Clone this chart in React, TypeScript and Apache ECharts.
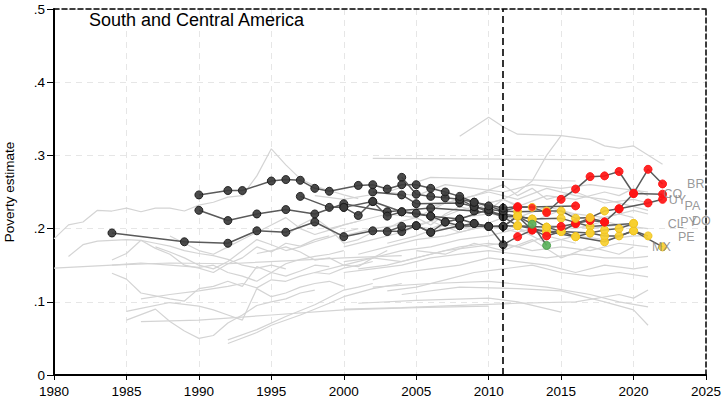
import React, { useEffect, useRef } from 'react';
import * as echarts from 'echarts';

const FONT = "'Liberation Sans', Arial, Helvetica, sans-serif";

// status codes: 0 = before 2012 (black), 1 = red, 2 = yellow, 3 = green, 4 = red/yellow
const xTicks = { min: 1980, max: 2025, step: 5 };
const yTicks = { min: 0, max: 0.5, step: 0.1 };

const brazil = {
  years: [1990, 1992, 1993, 1995, 1996, 1997, 1998, 1999, 2001, 2002, 2003, 2004, 2005, 2006, 2007, 2008, 2009, 2011, 2012, 2013, 2014, 2015, 2016, 2017, 2018, 2019, 2020, 2021, 2022],
  values: [0.246, 0.252, 0.252, 0.265, 0.267, 0.266, 0.255, 0.251, 0.259, 0.26, 0.254, 0.26, 0.26, 0.255, 0.25, 0.244, 0.236, 0.228, 0.23, 0.229, 0.222, 0.24, 0.254, 0.271, 0.272, 0.278, 0.248, 0.281, 0.261],
  status: [0, 0, 0, 0, 0, 0, 0, 0, 0, 0, 0, 0, 0, 0, 0, 0, 0, 0, 1, 4, 1, 1, 1, 1, 1, 1, 1, 1, 1],
};
const chile = {
  years: [1990, 1992, 1994, 1996, 1998, 2000, 2003, 2006, 2009, 2011, 2013, 2015, 2017, 2020],
  values: [0.225, 0.211, 0.22, 0.226, 0.22, 0.234, 0.223, 0.228, 0.224, 0.22, 0.213, 0.214, 0.203, 0.207],
  status: [0, 0, 0, 0, 0, 0, 0, 0, 0, 0, 2, 2, 2, 2],
};
const mexico = {
  years: [1984, 1989, 1992, 1994, 1996, 1998, 2000, 2002, 2004, 2005, 2006, 2008, 2010, 2012, 2014, 2016, 2018, 2020, 2022],
  values: [0.194, 0.182, 0.18, 0.197, 0.195, 0.209, 0.189, 0.197, 0.196, 0.204, 0.195, 0.204, 0.203, 0.204, 0.196, 0.189, 0.182, 0.197, 0.175],
  status: [0, 0, 0, 0, 0, 0, 0, 0, 0, 0, 0, 0, 0, 2, 2, 2, 2, 2, 2],
};
const peru = {
  years: [1997, 1999, 2000, 2001, 2002, 2003, 2004, 2005, 2006, 2007, 2008, 2009, 2010, 2011, 2012, 2013, 2014, 2015, 2016, 2017, 2018, 2019, 2020, 2021],
  values: [0.244, 0.229, 0.229, 0.218, 0.237, 0.217, 0.223, 0.221, 0.217, 0.209, 0.213, 0.207, 0.203, 0.203, 0.217, 0.198, 0.196, 0.196, 0.189, 0.194, 0.19, 0.19, 0.197, 0.19],
  status: [0, 0, 0, 0, 0, 0, 0, 0, 0, 0, 0, 0, 0, 0, 2, 1, 2, 2, 2, 2, 2, 2, 2, 2],
};
const uruguay = {
  years: [2004, 2005, 2006, 2007, 2008, 2009, 2010, 2011, 2012, 2014, 2015, 2016, 2017, 2018, 2019, 2021, 2022],
  values: [0.27, 0.247, 0.244, 0.242, 0.24, 0.23, 0.226, 0.224, 0.223, 0.224, 0.224, 0.214, 0.215, 0.224, 0.227, 0.235, 0.24],
  status: [0, 0, 0, 0, 0, 0, 0, 0, 2, 2, 2, 2, 2, 2, 1, 1, 1],
};
const colombia = {
  years: [2002, 2004, 2005, 2008, 2009, 2010, 2011, 2012, 2013, 2014, 2015, 2016, 2017, 2018, 2019, 2020, 2022],
  values: [0.25, 0.246, 0.234, 0.235, 0.23, 0.223, 0.216, 0.217, 0.213, 0.202, 0.203, 0.207, 0.211, 0.209, 0.227, 0.248, 0.247],
  status: [0, 0, 0, 0, 0, 0, 0, 2, 2, 2, 1, 1, 1, 1, 1, 1, 1],
};
const paraguay = {
  years: [2003, 2004, 2005, 2006, 2007, 2008, 2009, 2010, 2011, 2012, 2013, 2014, 2015, 2016, 2017, 2018],
  values: [0.196, 0.203, 0.204, 0.195, 0.209, 0.204, 0.207, 0.203, 0.178, 0.189, 0.198, 0.19, 0.196, 0.207, 0.214, 0.209],
  status: [0, 0, 0, 0, 0, 0, 0, 0, 0, 1, 1, 1, 2, 1, 1, 1],
};
const panama = {
  years: [2008, 2009, 2010, 2011, 2012, 2016],
  values: [0.24, 0.236, 0.231, 0.224, 0.229, 0.231],
  status: [0, 0, 0, 0, 1, 1],
};
const dominicanRep = {
  years: [2000, 2002, 2004, 2006, 2008, 2010, 2011, 2012, 2014, 2015, 2017, 2018, 2019, 2020],
  values: [0.229, 0.237, 0.223, 0.217, 0.213, 0.226, 0.216, 0.204, 0.202, 0.196, 0.194, 0.198, 0.2, 0.207],
  status: [0, 0, 0, 0, 0, 0, 0, 2, 2, 2, 2, 2, 2, 2],
};
const otherHighlighted = {
  years: [2011, 2012, 2013, 2014],
  values: [0.203, 0.217, 0.206, 0.177],
  status: [0, 2, 3, 3],
};

const labelNames = ['BR', 'CO', 'UY', 'PA', 'DO', 'CL', 'PY', 'PE', 'MX'];
const labelYears = [2023.69, 2022.07, 2022.42, 2023.52, 2024.03, 2022.35, 2023.22, 2023.06, 2021.27];
const labelValues = [0.261, 0.247, 0.239, 0.231, 0.211, 0.206, 0.209, 0.1885, 0.1744];

const cutoffYear = 2011;

// background (other countries): flat lists of year, value pairs
const backgroundLines: number[][] = [
  [1980, 0.146, 1984, 0.15, 1988, 0.153, 1992, 0.152, 1996, 0.156, 2000, 0.16, 2004, 0.163],
  [1980, 0.186, 1981, 0.205, 1982, 0.209, 1983, 0.225, 1984, 0.224, 1985, 0.228, 1986, 0.223, 1987, 0.228, 1988, 0.228, 1989, 0.224, 1990, 0.232, 1991, 0.236, 1992, 0.243, 1993, 0.245, 1994, 0.272, 1995, 0.309, 1996, 0.287, 1997, 0.268, 1998, 0.258, 1999, 0.252, 2000, 0.246, 2001, 0.241],
  [1981, 0.162, 1982, 0.178, 1983, 0.183, 1985, 0.185, 1986, 0.184, 1987, 0.18, 1988, 0.176, 1989, 0.17, 1990, 0.166, 1991, 0.163, 1992, 0.158, 1993, 0.15, 1994, 0.146, 1995, 0.15, 1996, 0.145],
  [1984, 0.157, 1985, 0.166, 1986, 0.184, 1987, 0.173, 1988, 0.165, 1989, 0.15, 1990, 0.146, 1991, 0.14, 1992, 0.152, 1993, 0.16, 1994, 0.175, 1995, 0.168, 1996, 0.18, 1997, 0.176, 1998, 0.185, 1999, 0.19],
  [1984, 0.15, 1986, 0.153, 1988, 0.15, 1990, 0.147, 1991, 0.15, 1992, 0.14, 1993, 0.135, 1994, 0.128, 1995, 0.14, 1996, 0.152, 1997, 0.158, 1998, 0.162, 1999, 0.165, 2000, 0.17],
  [1984, 0.139, 1985, 0.131, 1986, 0.112, 1987, 0.108, 1988, 0.104, 1989, 0.101, 1990, 0.118, 1991, 0.121, 1992, 0.128, 1993, 0.121, 1994, 0.148, 1995, 0.14, 1996, 0.135, 1997, 0.142, 1998, 0.15, 1999, 0.148],
  [1985, 0.087, 1986, 0.091, 1988, 0.099, 1990, 0.094, 1991, 0.089, 1992, 0.082, 1993, 0.075, 1994, 0.118, 1995, 0.107, 1996, 0.112, 1997, 0.12, 1998, 0.125, 1999, 0.128, 2000, 0.121],
  [1985, 0.075, 1987, 0.09, 1988, 0.073, 1989, 0.06, 1990, 0.05, 1991, 0.054, 1992, 0.071, 1993, 0.082, 1994, 0.095, 1995, 0.1, 1996, 0.104, 1997, 0.112, 1998, 0.116],
  [1986, 0.073, 1990, 0.075, 1995, 0.082, 2000, 0.089, 2005, 0.092, 2010, 0.094],
  [1986, 0.104, 1988, 0.11, 1990, 0.115, 1991, 0.118, 1992, 0.121, 1993, 0.125, 1994, 0.119, 1995, 0.13, 1996, 0.128, 1997, 0.135, 1998, 0.14, 1999, 0.138, 2000, 0.146, 2001, 0.15, 2002, 0.155],
  [1992, 0.043, 1994, 0.058, 1995, 0.068, 1997, 0.082, 1999, 0.098, 2000, 0.107, 2002, 0.118, 2004, 0.125],
  [1992, 0.048, 1994, 0.062, 1996, 0.08, 1998, 0.096, 2000, 0.116, 2001, 0.12, 2002, 0.125],
  [1987, 0.175, 1988, 0.168, 1989, 0.16, 1990, 0.15, 1991, 0.145, 1992, 0.155, 1993, 0.17, 1994, 0.185, 1995, 0.178, 1996, 0.17, 1997, 0.175, 1998, 0.182, 1999, 0.188, 2000, 0.195, 2001, 0.2],
  [1988, 0.19, 1989, 0.18, 1990, 0.17, 1991, 0.165, 1992, 0.175, 1993, 0.185, 1994, 0.195, 1995, 0.205, 1996, 0.215, 1997, 0.2, 1998, 0.192, 1999, 0.198, 2000, 0.205, 2001, 0.21],
  [1994, 0.166, 1995, 0.17, 1996, 0.175, 1997, 0.168, 1998, 0.157, 1999, 0.16, 2000, 0.15, 2001, 0.148, 2002, 0.16, 2003, 0.17],
  [1996, 0.19, 1997, 0.205, 1998, 0.215, 1999, 0.2, 2000, 0.18, 2001, 0.185, 2002, 0.195, 2003, 0.2, 2004, 0.21, 2005, 0.215, 2006, 0.205, 2007, 0.22, 2008, 0.23, 2009, 0.225, 2010, 0.235, 2011, 0.24, 2012, 0.232],
  [2002, 0.296, 2018, 0.294],
  [2008, 0.326, 2010, 0.352, 2011, 0.339, 2012, 0.329, 2015, 0.327, 2017, 0.322, 2018, 0.313, 2019, 0.31, 2020, 0.313, 2022, 0.288],
  [2010, 0.225, 2011, 0.24, 2012, 0.25, 2013, 0.265, 2014, 0.3, 2015, 0.327],
  [2000, 0.175, 2002, 0.185, 2004, 0.195, 2006, 0.21, 2008, 0.225, 2010, 0.235, 2011, 0.24, 2012, 0.23, 2014, 0.245, 2016, 0.24, 2018, 0.25, 2019, 0.245, 2020, 0.255, 2021, 0.245],
  [1999, 0.2, 2001, 0.21, 2003, 0.22, 2005, 0.215, 2007, 0.235, 2009, 0.245, 2011, 0.26, 2012, 0.245, 2013, 0.255, 2014, 0.24, 2016, 0.25, 2018, 0.235, 2020, 0.24, 2021, 0.235],
  [2000, 0.19, 2002, 0.2, 2004, 0.205, 2006, 0.2, 2008, 0.215, 2010, 0.22, 2012, 0.215, 2014, 0.23, 2016, 0.22, 2018, 0.215, 2020, 0.225, 2021, 0.22],
  [2001, 0.165, 2003, 0.175, 2005, 0.185, 2007, 0.19, 2009, 0.2, 2011, 0.205, 2013, 0.195, 2015, 0.205, 2017, 0.2, 2019, 0.205, 2021, 0.2],
  [2000, 0.155, 2002, 0.16, 2004, 0.17, 2006, 0.175, 2008, 0.185, 2010, 0.19, 2012, 0.2, 2014, 0.18, 2016, 0.19, 2018, 0.185, 2020, 0.19, 2021, 0.19],
  [2001, 0.145, 2003, 0.15, 2005, 0.16, 2007, 0.17, 2009, 0.175, 2011, 0.18, 2013, 0.17, 2015, 0.175, 2017, 0.17, 2019, 0.18, 2021, 0.175],
  [2000, 0.14, 2002, 0.145, 2004, 0.15, 2006, 0.16, 2008, 0.165, 2010, 0.17, 2012, 0.165, 2014, 0.16, 2016, 0.165, 2018, 0.16, 2020, 0.16, 2021, 0.162],
  [2002, 0.13, 2004, 0.14, 2006, 0.145, 2008, 0.15, 2010, 0.16, 2012, 0.155, 2014, 0.15, 2016, 0.14, 2018, 0.15, 2020, 0.145, 2021, 0.148],
  [2003, 0.115, 2005, 0.12, 2007, 0.13, 2009, 0.14, 2011, 0.145, 2013, 0.15, 2015, 0.14, 2017, 0.135, 2019, 0.14, 2021, 0.134],
  [2001, 0.098, 2005, 0.102, 2010, 0.105, 2012, 0.1, 2015, 0.086],
  [2000, 0.09, 2004, 0.092, 2008, 0.095, 2012, 0.098, 2016, 0.1, 2019, 0.11, 2020, 0.105, 2021, 0.116],
  [2004, 0.11, 2008, 0.12, 2012, 0.118, 2015, 0.115, 2018, 0.1, 2020, 0.089, 2021, 0.068],
  [2002, 0.12, 2006, 0.125, 2010, 0.128, 2014, 0.12, 2017, 0.11, 2019, 0.1, 2021, 0.093],
  [2003, 0.18, 2005, 0.19, 2007, 0.205, 2009, 0.2, 2011, 0.215, 2013, 0.21, 2015, 0.225, 2017, 0.21, 2019, 0.22, 2020, 0.215],
  [2004, 0.2, 2006, 0.21, 2008, 0.195, 2010, 0.205, 2012, 0.195, 2014, 0.205, 2016, 0.2, 2018, 0.21, 2019, 0.205],
  [2005, 0.17, 2007, 0.165, 2009, 0.18, 2011, 0.17, 2013, 0.185, 2015, 0.16, 2017, 0.175, 2019, 0.165, 2020, 0.175],
  [1998, 0.14, 2000, 0.15, 2002, 0.16, 2004, 0.155, 2006, 0.165, 2008, 0.175, 2010, 0.18, 2012, 0.175, 2014, 0.19, 2016, 0.18],
  [2006, 0.23, 2008, 0.24, 2010, 0.25, 2012, 0.24, 2014, 0.255, 2016, 0.245, 2018, 0.24, 2020, 0.23, 2021, 0.225],
  [2003, 0.25, 2005, 0.245, 2007, 0.26, 2009, 0.255, 2011, 0.25, 2013, 0.26, 2015, 0.255, 2017, 0.26, 2019, 0.255, 2021, 0.25],
  [1998, 0.245, 2000, 0.24, 2003, 0.25, 2006, 0.27, 2010, 0.268, 2016, 0.265],
];

const statusFill = ['#3c3c3c', '#ff1414', '#f7cf2f', '#5cb25c', '#ff2a14'];
const statusBorder = ['#1a1a1a', '#ff1414', '#efc21f', '#4a9e4a', '#f2c62e'];

type Country = { years: number[]; values: number[]; status: number[] };
const highlighted: Country[] = [mexico, chile, peru, dominicanRep, paraguay, colombia, uruguay, panama, otherHighlighted, brazil];

function pairs(flat: number[]) {
  const out: number[][] = [];
  for (let i = 0; i < flat.length; i += 2) out.push([flat[i], flat[i + 1]]);
  return out;
}

function buildOption() {
  const series: any[] = [];
  backgroundLines.forEach((line) => {
    series.push({
      type: 'line',
      data: pairs(line),
      symbol: 'none',
      silent: true,
      z: 1,
      lineStyle: { color: '#d4d4d4', width: 1.2 },
      emphasis: { disabled: true },
    });
  });
  series.push({
    type: 'line',
    data: [],
    silent: true,
    z: 2,
    markLine: {
      silent: true,
      symbol: 'none',
      label: { show: false },
      lineStyle: { color: '#000', width: 1.6, type: [7, 4] },
      data: [{ xAxis: cutoffYear }],
    },
  });
  highlighted.forEach((c) => {
    series.push({
      type: 'line',
      z: 3,
      symbol: 'circle',
      symbolSize: 8,
      showAllSymbol: true,
      silent: true,
      emphasis: { disabled: true },
      lineStyle: { color: '#5a5a5a', width: 1.5 },
      data: c.years.map((y, i) => ({
        value: [y, c.values[i]],
        itemStyle: {
          color: statusFill[c.status[i]],
          borderColor: statusBorder[c.status[i]],
          borderWidth: 1,
          opacity: 0.92,
        },
      })),
    });
  });
  series.push({
    type: 'scatter',
    z: 5,
    silent: true,
    symbolSize: 0.1,
    itemStyle: { color: 'transparent' },
    label: {
      show: true,
      position: 'right',
      distance: 0,
      formatter: '{b}',
      color: '#7d7d7d',
      fontSize: 12.5,
      fontFamily: FONT,
    },
    data: labelNames.map((n, i) => ({ name: n, value: [labelYears[i], labelValues[i]] })),
  });

  return {
    animation: false,
    title: {
      text: 'South and Central America',
      left: 89,
      top: 11,
      padding: 0,
      textStyle: { fontFamily: FONT, fontSize: 18, fontWeight: 'normal', color: '#000' },
    },
    grid: { left: 54, right: 16, top: 9, bottom: 25, containLabel: false, outerBoundsMode: 'none' },
    xAxis: [
      {
        type: 'value',
        min: xTicks.min,
        max: xTicks.max,
        interval: xTicks.step,
        axisLine: { show: true, onZero: false, lineStyle: { color: '#000', width: 2 } },
        axisTick: { show: true, length: 5, lineStyle: { color: '#000', width: 1 } },
        axisLabel: {
          color: '#000',
          fontSize: 13.5,
          fontFamily: FONT,
          margin: 9,
          formatter: (v: number) => String(v),
        },
        splitLine: { show: true, lineStyle: { color: '#e6e6e6', width: 1, type: [6, 5] } },
      },
      {
        type: 'value',
        position: 'top',
        min: xTicks.min,
        max: xTicks.max,
        axisLine: { show: true, onZero: false, lineStyle: { color: '#000', width: 1.5, type: [5, 3] } },
        axisTick: { show: false },
        axisLabel: { show: false },
        splitLine: { show: false },
      },
    ],
    yAxis: [
      {
        type: 'value',
        min: yTicks.min,
        max: yTicks.max,
        interval: yTicks.step,
        name: 'Poverty estimate',
        nameLocation: 'middle',
        nameGap: 38,
        nameTextStyle: { fontFamily: FONT, fontSize: 13.5, color: '#000' },
        axisLine: { show: true, onZero: false, lineStyle: { color: '#000', width: 2 } },
        axisTick: { show: true, length: 7, lineStyle: { color: '#000', width: 1 } },
        axisLabel: {
          color: '#000',
          fontSize: 13.5,
          fontFamily: FONT,
          margin: 9,
          formatter: (v: number) => (v === 0 ? '0' : '.' + Math.round(v * 10)),
        },
        splitLine: { show: true, lineStyle: { color: '#e6e6e6', width: 1, type: [6, 5] } },
      },
      {
        type: 'value',
        position: 'right',
        min: yTicks.min,
        max: yTicks.max,
        axisLine: { show: true, onZero: false, lineStyle: { color: '#000', width: 1.5, type: [5, 3] } },
        axisTick: { show: false },
        axisLabel: { show: false },
        splitLine: { show: false },
      },
    ],
    series,
  };
}

export default function App() {
  const ref = useRef<HTMLDivElement>(null);
  useEffect(() => {
    if (!ref.current) return;
    const chart = echarts.init(ref.current, null, { renderer: 'svg' });
    chart.setOption(buildOption() as any);
    return () => chart.dispose();
  }, []);
  return (
    <div
      ref={ref}
      style={{ position: 'absolute', left: 0, top: 0, width: 722, height: 400, background: '#fff' }}
    />
  );
}
